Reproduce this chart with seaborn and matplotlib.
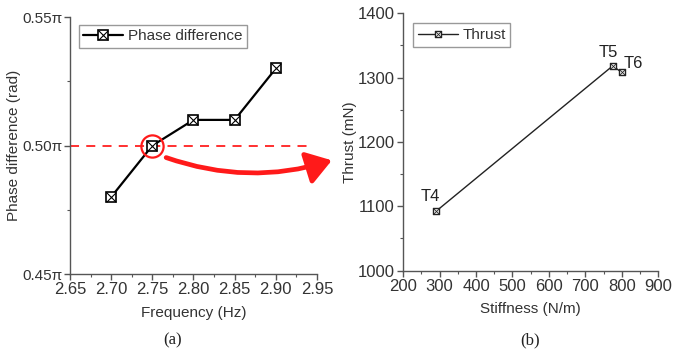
import numpy as np
import matplotlib
matplotlib.use("Agg")
import matplotlib.pyplot as plt
import seaborn as sns
from matplotlib.path import Path
from matplotlib.patches import FancyArrowPatch
from matplotlib.ticker import MultipleLocator, FixedLocator, FixedFormatter

# data
freq = [2.70, 2.75, 2.80, 2.85, 2.90]
phase = [0.48, 0.50, 0.51, 0.51, 0.53]          # in units of pi
phase_ticks = [0.45, 0.50, 0.55]
phase_ticklabels = ["0.45\u03c0", "0.50\u03c0", "0.55\u03c0"]
ref_phase = 0.50
ref_freq = 2.75

stiffness = [290, 775, 800]
thrust = [1092, 1318, 1308]
point_names = ["T4", "T5", "T6"]

sns.set_style("ticks")
plt.rcParams['font.family'] = ['Liberation Sans', 'DejaVu Sans']
plt.rcParams['axes.edgecolor'] = '#555555'
plt.rcParams['text.color'] = '#333333'
plt.rcParams['axes.labelcolor'] = '#333333'
plt.rcParams['xtick.color'] = '#555555'
plt.rcParams['ytick.color'] = '#555555'
plt.rcParams['xtick.labelcolor'] = '#333333'
plt.rcParams['ytick.labelcolor'] = '#333333'

# crossed-square marker overlay
xmark = Path([(-1, -1), (1, 1), (-1, 1), (1, -1)],
             [Path.MOVETO, Path.LINETO, Path.MOVETO, Path.LINETO])

fig = plt.figure(figsize=(6.73, 3.56), dpi=100)
ax1 = fig.add_axes([0.104, 0.230, 0.367, 0.722])
ax2 = fig.add_axes([0.599, 0.240, 0.379, 0.723])

fs = 11
tfs = 12

# ---- panel (a)
ax1.plot([2.65, 2.94], [ref_phase, ref_phase], color='#ff2020', ls=(0, (5, 4)), lw=1.3, zorder=1)
sns.lineplot(x=freq, y=phase, ax=ax1, color='black', lw=1.6, marker='s',
             markersize=7, markerfacecolor='white', markeredgecolor='black',
             markeredgewidth=1.2, zorder=3)
ax1.plot(freq, phase, ls='none', marker=xmark, markersize=7, color='black',
         markeredgewidth=0.8, zorder=4)
ax1.plot([ref_freq], [ref_phase], ls='none', marker='o', markersize=16,
         markerfacecolor='none', markeredgecolor='#ff1a1a', markeredgewidth=1.6, zorder=5)

ax1.set_xlim(2.65, 2.95)
ax1.set_ylim(0.45, 0.55)
ax1.xaxis.set_major_locator(MultipleLocator(0.05))
ax1.xaxis.set_minor_locator(MultipleLocator(0.025))
ax1.yaxis.set_major_locator(FixedLocator(phase_ticks))
ax1.yaxis.set_major_formatter(FixedFormatter(phase_ticklabels))
ax1.yaxis.set_minor_locator(MultipleLocator(0.025))
ax1.set_xlabel("Frequency (Hz)", fontsize=fs, labelpad=6)
ax1.set_ylabel("Phase difference (rad)", fontsize=fs)
ax1.yaxis.set_label_coords(-0.2, 0.5)

h1 = ax1.lines[1]
h1x = ax1.lines[2]
ax1.legend([(h1, h1x)], ["Phase difference"], loc='upper left', fontsize=fs,
           frameon=True, fancybox=False, edgecolor='#999999', framealpha=1,
           borderpad=0.3, handlelength=2.6, handletextpad=0.3,
           bbox_to_anchor=(0.005, 1.0))

# ---- panel (b)
sns.lineplot(x=stiffness, y=thrust, ax=ax2, color='#222222', lw=1.0, marker='s',
             markersize=5, markerfacecolor='white', markeredgecolor='#222222',
             markeredgewidth=1.0, zorder=3)
ax2.plot(stiffness, thrust, ls='none', marker=xmark, markersize=5, color='#222222',
         markeredgewidth=0.6, zorder=4)
offsets = [(-4, 5), (-3, 4), (8, 1)]
for sx, ty, name, off in zip(stiffness, thrust, point_names, offsets):
    ax2.annotate(name, (sx, ty), xytext=off, textcoords='offset points',
                 fontsize=tfs, ha='center', va='bottom', color='#222222')

ax2.set_xlim(200, 900)
ax2.set_ylim(1000, 1400)
ax2.xaxis.set_major_locator(MultipleLocator(100))
ax2.xaxis.set_minor_locator(MultipleLocator(50))
ax2.yaxis.set_major_locator(MultipleLocator(100))
ax2.yaxis.set_minor_locator(MultipleLocator(50))
ax2.set_xlabel("Stiffness (N/m)", fontsize=fs, labelpad=6)
ax2.set_ylabel("Thrust (mN)", fontsize=fs)
ax2.yaxis.set_label_coords(-0.18, 0.5)

h2 = ax2.lines[0]
h2x = ax2.lines[1]
ax2.legend([(h2, h2x)], ["Thrust"], loc='upper left', fontsize=fs,
           frameon=True, fancybox=False, edgecolor='#999999', framealpha=1,
           borderpad=0.3, handlelength=2.6, handletextpad=0.3,
           bbox_to_anchor=(0.01, 0.99))

for ax in (ax1, ax2):
    sns.despine(ax=ax)
    ax.tick_params(which='major', direction='out', length=4, width=1, labelsize=tfs, pad=2)
    ax.tick_params(which='minor', direction='out', length=2.5, width=0.8)
    for s in ('left', 'bottom'):
        ax.spines[s].set_linewidth(1.0)
ax1.tick_params(axis='y', which='major', labelsize=11, pad=1.5)

# curved red arrow from panel (a) into panel (b)
arrow = FancyArrowPatch((0.243, 0.560), (0.497, 0.552), transform=fig.transFigure,
                        connectionstyle="arc3,rad=0.17",
                        arrowstyle="-|>,head_length=0.75,head_width=0.5",
                        mutation_scale=20, color='#ff1a1a', lw=3.4)
fig.add_artist(arrow)

fig.text(0.256, 0.045, "(a)", fontsize=12, family=['Liberation Serif', 'DejaVu Serif'],
         ha='center', va='center', color='#222222')
fig.text(0.788, 0.045, "(b)", fontsize=12, family=['Liberation Serif', 'DejaVu Serif'],
         ha='center', va='center', color='#222222')

fig.savefig("out.png", dpi=100)
